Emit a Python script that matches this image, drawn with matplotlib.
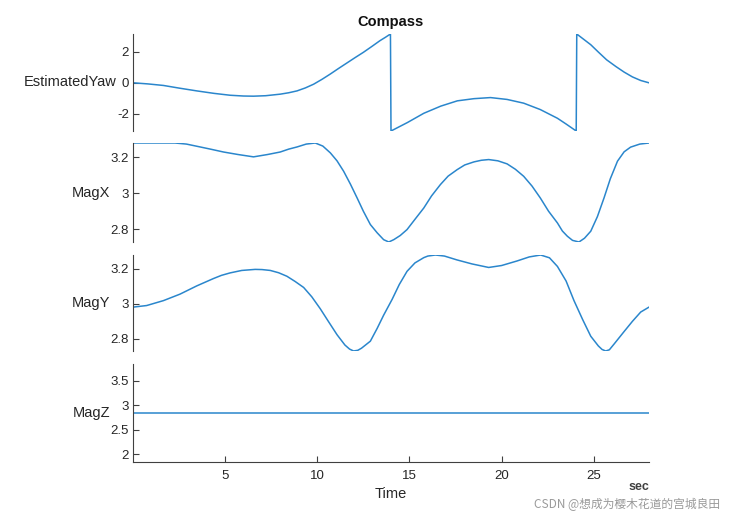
import matplotlib
matplotlib.use("Agg")
import matplotlib.pyplot as plt

# ---- data ----
yaw_t = [0.0, 0.8, 1.65, 2.5, 3.46, 4.4, 5.27, 6.0, 6.54, 7.2, 7.99, 8.45, 8.9, 9.35, 9.8,
         10.25, 10.7, 11.15, 11.6, 12.05, 12.5, 12.95, 13.4, 13.7, 13.97,
         14.0, 14.9, 15.78, 16.7, 17.6, 18.5, 19.4, 20.3, 21.2, 22.1, 23.03, 23.5, 24.05,
         24.08, 24.84, 25.25, 25.7, 26.2, 26.65, 27.1, 27.55, 28.0]
yaw_v = [0.0, -0.07, -0.17, -0.34, -0.52, -0.68, -0.8, -0.85, -0.86, -0.83, -0.73, -0.64, -0.52, -0.33, -0.09,
         0.22, 0.56, 0.92, 1.27, 1.62, 1.96, 2.33, 2.71, 2.93, 3.14,
         -3.1, -2.55, -1.96, -1.5, -1.16, -1.02, -0.95, -1.07, -1.31, -1.72, -2.28, -2.65, -3.1,
         3.14, 2.45, 1.98, 1.48, 1.05, 0.69, 0.38, 0.15, 0.0]

magx_t = [0.0, 1.2, 2.28, 2.9, 3.46, 4.2, 4.91, 5.7, 6.54, 7.3, 7.99, 8.45, 8.9, 9.4, 9.89,
          10.3, 10.71, 11.07, 11.43, 11.8, 12.16, 12.5, 12.88, 13.25, 13.6, 13.88,
          14.15, 14.5, 14.87, 15.3, 15.78, 16.2, 16.68, 17.1, 17.59, 18.0, 18.5, 18.9, 19.3,
          19.8, 20.3, 20.75, 21.2, 21.65, 22.1, 22.55, 23.03, 23.3, 23.57, 23.85, 24.2,
          24.5, 24.84, 25.2, 25.56, 25.9, 26.29, 26.65, 27.0, 27.5, 28.0]
magx_v = [3.279, 3.279, 3.279, 3.273, 3.261, 3.245, 3.229, 3.215, 3.202, 3.215, 3.229, 3.245, 3.257, 3.273, 3.279,
          3.262, 3.224, 3.18, 3.122, 3.05, 2.974, 2.9, 2.826, 2.78, 2.742, 2.729,
          2.742, 2.765, 2.798, 2.855, 2.918, 2.985, 3.048, 3.095, 3.131, 3.157, 3.174, 3.183, 3.187,
          3.18, 3.163, 3.133, 3.094, 3.04, 2.974, 2.9, 2.835, 2.79, 2.761, 2.738, 2.729,
          2.75, 2.789, 2.87, 2.974, 3.08, 3.178, 3.23, 3.256, 3.273, 3.279]

magy_t = [0.0, 0.74, 1.65, 2.55, 3.46, 4.37, 4.8, 5.27, 5.9, 6.63, 7.0, 7.45, 7.9, 8.35, 8.8, 9.26,
          9.7, 10.16, 10.6, 11.07, 11.5, 11.75, 11.97, 12.2, 12.4, 12.88, 13.25, 13.6, 14.06, 14.45,
          14.87, 15.3, 15.78, 16.0, 16.41, 16.9, 17.58, 18.4, 19.3, 20.0, 20.84, 21.5, 22.12,
          22.6, 23.03, 23.5, 23.93, 24.4, 24.84, 25.25, 25.45, 25.65, 25.85, 26.1, 26.65, 27.1, 27.55, 28.0]
magy_v = [2.981, 2.99, 3.018, 3.055, 3.102, 3.144, 3.162, 3.176, 3.19, 3.196, 3.195, 3.19, 3.177, 3.157, 3.127, 3.093,
          3.04, 2.972, 2.9, 2.824, 2.765, 2.742, 2.731, 2.735, 2.747, 2.787, 2.86, 2.935, 3.025, 3.11,
          3.185, 3.233, 3.263, 3.272, 3.278, 3.272, 3.25, 3.227, 3.207, 3.218, 3.244, 3.267, 3.278,
          3.262, 3.213, 3.13, 3.018, 2.91, 2.815, 2.76, 2.74, 2.731, 2.738, 2.77, 2.842, 2.9, 2.953, 2.981]

magz_t = [0.0, 28.0]
magz_v = [2.84, 2.84]

labels = ["EstimatedYaw", "MagX", "MagY", "MagZ"]
x_ticks = [5, 10, 15, 20, 25]
y_ticks = [[-2, 0, 2], [2.8, 3.0, 3.2], [2.8, 3.0, 3.2], [2.0, 2.5, 3.0, 3.5]]
y_ticklabels = [["-2", "0", "2"], ["2.8", "3", "3.2"], ["2.8", "3", "3.2"], ["2", "2.5", "3", "3.5"]]

series = [(yaw_t, yaw_v), (magx_t, magx_v), (magy_t, magy_v), (magz_t, magz_v)]

W, H = 736, 519
fig = plt.figure(figsize=(W / 100, H / 100), dpi=100)
plt.rcParams['font.family'] = ['Liberation Sans', 'DejaVu Sans']

left_px, right_px = 133, 649
panels_px = [(34, 131), (143, 242), (255, 351), (364, 462)]

line_color = "#2a86cc"
axis_color = "#404040"
text_color = "#262626"

for i, ((t, v), (top, bot)) in enumerate(zip(series, panels_px)):
    ax = fig.add_axes([left_px / W, 1 - bot / H, (right_px - left_px) / W, (bot - top) / H])
    ax.plot(t, v, color=line_color, lw=1.1)
    ax.set_xlim(0, 28)
    if i == 3:
        ax.set_ylim(v[0] - 1.0, v[0] + 1.0)
    else:
        ax.set_ylim(min(v), max(v))
    ax.set_yticks(y_ticks[i])
    ax.set_yticklabels(y_ticklabels[i])
    for s in ["top", "right"]:
        ax.spines[s].set_visible(False)
    ax.spines["left"].set_color(axis_color)
    ax.spines["bottom"].set_color(axis_color)
    ax.tick_params(axis="both", direction="in", length=4, width=0.8, colors=axis_color,
                   labelcolor=text_color, labelsize=9.5, pad=3)
    if i < 3:
        ax.spines["bottom"].set_visible(False)
        ax.set_xticks([])
    else:
        ax.set_xticks(x_ticks)
        ax.set_xticklabels([str(x) for x in x_ticks])
        ax.tick_params(axis="x", pad=6)
        ax.set_xlabel("Time", fontsize=10.5, color=text_color, labelpad=3)
    ax.set_ylabel(labels[i], rotation=0, ha="right", va="center", fontsize=10.5,
                  color=text_color, labelpad=0)
    ax.patch.set_alpha(0)

fig.text((left_px + right_px) / 2 / W, 1 - 22 / H, "Compass", ha="center", va="center",
         fontsize=10.5, fontweight="bold", color="#111111")
fig.text(649 / W, 1 - 487 / H, "sec", ha="right", va="center", fontsize=9,
         fontweight="bold", color="#404040")
fig.text(720 / W, 1 - 504 / H, "CSDN @想成为樱木花道的宫城良田", ha="right", va="center",
         fontsize=8.5, color="#9a9a9a", family=['Noto Sans CJK SC', 'DejaVu Sans'])

fig.savefig("out.png", dpi=100)
